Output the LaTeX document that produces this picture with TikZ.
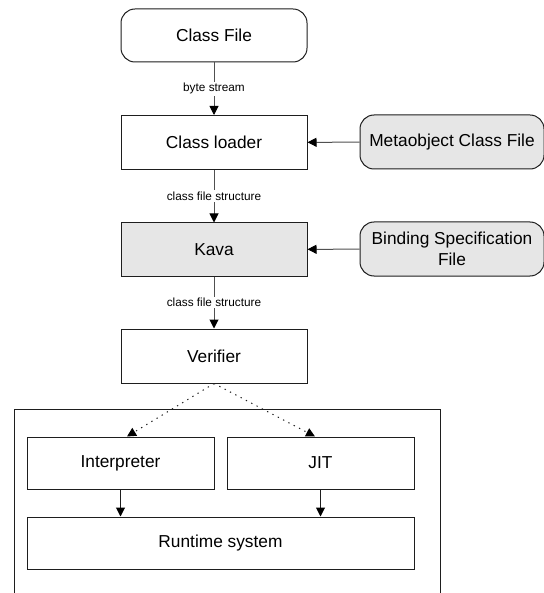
\documentclass[tikz,border=0pt]{standalone}
\usepackage{fontspec}
\setmainfont{Liberation Sans}
\usetikzlibrary{arrows.meta,calc}

\definecolor{boxline}{HTML}{1E1E1E}
\definecolor{wireline}{HTML}{505050}
\definecolor{shade}{HTML}{E6E6E6}

\tikzset{
  box/.style={draw=boxline, line width=1pt, rectangle, minimum width=186pt,
              minimum height=54pt, inner sep=0pt, align=center,
              font=\fontsize{17.3}{21}\selectfont},
  filebox/.style={box, rounded corners=14pt},
  grey/.style={fill=shade},
  wire/.style={draw=wireline, line width=1pt,
               -{Triangle[width=9pt,length=9pt,color=black,fill=black]}},
  dotwire/.style={wire, draw=boxline, dash pattern=on 1.3pt off 4.7pt},
  tag/.style={fill=white, inner sep=1.5pt, font=\fontsize{11.8}{14}\selectfont}
}

\begin{document}
\begin{tikzpicture}[x=1pt,y=-1pt]
  \useasboundingbox (0,0) rectangle (543,593);
  \fill[white] (0,0) rectangle (543,593);

  % execution engine enclosure (open at the bottom)
  \begin{scope}
    \clip (0,0) rectangle (543,593);
    \draw[boxline, line width=1pt] (14,409) rectangle (440,610);
  \end{scope}

  % main pipeline
  \node[filebox] (classfile) at (214,35.5) [minimum height=53pt] {Class File};
  \node[box] (loader) at (214,142.5) {Class loader};
  \node[box, grey] (kava) at (214,249.5) [minimum height=53pt] {Kava};
  \node[box] (verifier) at (214,356) {Verifier};

  % inputs on the right
  \node[filebox, grey, minimum width=184pt] (meta) at (452,142) {Metaobject Class File};
  \node[filebox, grey, minimum width=184pt] (binding) at (452,249)
       {Binding Specification\\File};

  % execution back ends
  \node[box, minimum width=187pt, minimum height=52pt] (interp) at (120.5,463) {Interpreter};
  \node[box, minimum width=187pt, minimum height=52pt] (jit) at (320.5,463) {JIT};
  \node[box, minimum width=387pt, minimum height=52pt] (runtime) at (220.5,543) {Runtime system};

  % pipeline connectors
  \draw[wire] (classfile) -- node[tag] {byte stream} (loader);
  \draw[wire] (loader) -- node[tag] {class file structure} (kava);
  \draw[wire] (kava) -- node[tag] {class file structure} (verifier);

  \draw[wire] (meta) -- (loader);
  \draw[wire] (binding) -- (kava);

  % dispatch to the back ends
  \coordinate (interpin) at ($(interp.north)+(6.5,0)$);
  \coordinate (jitin) at ($(jit.north)+(-5.5,0)$);
  \draw[dotwire] (verifier.south) -- (interpin);
  \draw[dotwire] (verifier.south) -- (jitin);

  \draw[wire, draw=boxline] (interp.south) -- (interp.south |- runtime.north);
  \draw[wire, draw=boxline] (jit.south) -- (jit.south |- runtime.north);
\end{tikzpicture}
\end{document}
